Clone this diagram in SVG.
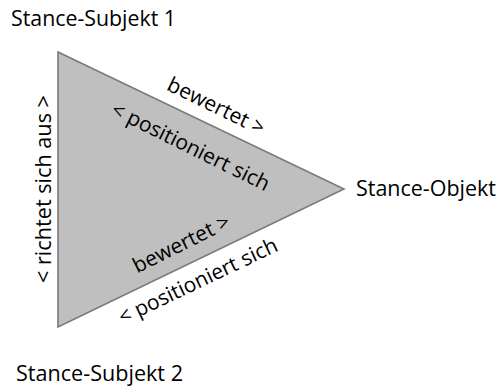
<svg xmlns="http://www.w3.org/2000/svg" width="499" height="386" viewBox="0 0 499 386">
<style>
.t{font-family:"Open Sans","Noto Sans",sans-serif;font-size:21px;fill:#000}
.r{font-family:"Open Sans","Noto Sans",sans-serif;font-size:21px;fill:#000;text-anchor:middle}
</style>
<rect width="499" height="386" fill="#fff"/>
<g id="connectors">
<polygon id="triangle" points="58,52 344,189 58,327" fill="#bfbfbf" stroke="#7a7a7a" stroke-width="1.6" stroke-linejoin="miter"/>
<text class="r" transform="translate(213,112.5) rotate(26)">bewertet &gt;</text>
<text class="r" transform="translate(187.5,153) rotate(26.3)">&lt; positioniert sich</text>
<text class="r" transform="translate(184.5,250) rotate(-26.5)">bewertet &gt;</text>
<text class="r" transform="translate(201,287.5) rotate(-25.5)">&lt; positioniert sich</text>
<text class="r" transform="translate(51,189) rotate(-90)" textLength="188" lengthAdjust="spacingAndGlyphs">&lt; richtet sich aus &gt;</text>
</g>
<g id="subjekt1"><text class="t" x="11" y="26" textLength="165" lengthAdjust="spacingAndGlyphs">Stance-Subjekt 1</text></g>
<g id="subjekt2"><text class="t" x="16" y="381" textLength="167" lengthAdjust="spacingAndGlyphs">Stance-Subjekt 2</text></g>
<g id="objekt"><text class="t" x="356" y="196" textLength="140" lengthAdjust="spacingAndGlyphs">Stance-Objekt</text></g>
</svg>
